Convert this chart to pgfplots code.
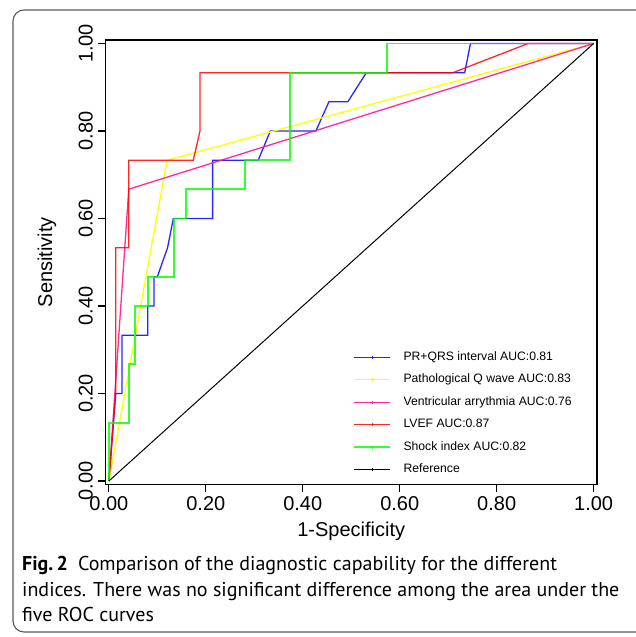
\documentclass[border=0pt]{standalone}
\usepackage{pgfplots}
\pgfplotsset{compat=1.18}
\usepackage{fontspec}
\setmainfont{Liberation Sans}
\newfontfamily\capfont{PT Sans}

\definecolor{cblue}{HTML}{0000FF}
\definecolor{cyellow}{HTML}{FFFF00}
\definecolor{cpink}{HTML}{FF1493}
\definecolor{cred}{HTML}{FF0000}
\definecolor{cgreen}{HTML}{00FF00}

\begin{document}
\begin{tikzpicture}
\useasboundingbox (0pt,0pt) rectangle (635pt,637pt);
\draw[black!65, line width=1.1pt, rounded corners=11pt] (13pt,5pt) rectangle (660pt,627pt);

\begin{axis}[
    at={(105.5pt,152.5pt)}, anchor=south west,
    scale only axis, width=491.5pt, height=444.5pt,
    xmin=-0.007, xmax=1.007, ymin=-0.008, ymax=1.008,
    axis line style={line width=1.2pt},
    tick align=outside, major tick length=7.5pt,
    tick style={black, line width=1.2pt},
    xtick pos=bottom, ytick pos=left,
    xtick={0,0.2,0.4,0.6,0.8,1}, ytick={0,0.2,0.4,0.6,0.8,1},
    xticklabels={0.00,0.20,0.40,0.60,0.80,1.00},
    yticklabels={0.00,0.20,0.40,0.60,0.80,1.00},
    xticklabel style={font=\fontsize{20}{20}\selectfont, inner sep=0pt, anchor=north, yshift=-4.5pt},
    yticklabel style={font=\fontsize{20}{20}\selectfont, inner sep=0pt, rotate=90, anchor=south, yshift=5pt},
    xlabel={1-Specificity}, ylabel={Sensitivity},
    every axis x label/.style={at={(axis description cs:0.5,0)}, anchor=north, inner sep=0pt, yshift=-37pt, font=\fontsize{20}{20}\selectfont},
    every axis y label/.style={at={(axis description cs:0,0.5)}, rotate=90, anchor=south, inner sep=0pt, yshift=49pt, font=\fontsize{20}{20}\selectfont},
    legend cell align=left,
    legend style={at={(axis cs:0.5037,0.297)}, anchor=north west, draw=none, fill=none,
        inner sep=0pt, font=\fontsize{12.2}{12.2}\selectfont, row sep=10.5pt,
        nodes={inner sep=0pt, text height=9pt, text depth=3pt}},
    legend image code/.code={
        \draw[#1] (0pt,0pt) -- (35.7pt,0pt);
        \draw[#1, line width=0.6pt] (17.85pt,-1.5pt) -- (17.85pt,1.5pt);
        \path (48.4pt,0pt);
    },
]
% PR+QRS interval
\addplot[cblue, line width=1.3pt, opacity=0.85] coordinates {
  (0,0) (0.014,0.2) (0.027,0.2) (0.027,0.333) (0.080,0.333) (0.080,0.4)
  (0.093,0.4) (0.093,0.467) (0.100,0.467) (0.121,0.533) (0.133,0.6)
  (0.214,0.6) (0.214,0.733) (0.308,0.733) (0.333,0.8) (0.427,0.8)
  (0.454,0.867) (0.493,0.867) (0.531,0.933) (0.734,0.933) (0.746,1) (1,1)
};
\addlegendentry{PR+QRS interval AUC:0.81}
% Pathological Q wave
\addplot[cyellow, line width=1.3pt] coordinates {
  (0,0) (0.120,0.733) (1,1)
};
\addlegendentry{Pathological Q wave AUC:0.83}
% Ventricular arrythmia
\addplot[cpink, line width=1.3pt, opacity=0.9] coordinates {
  (0,0) (0.041,0.667) (1,1)
};
\addlegendentry{Ventricular arrythmia AUC:0.76}
% LVEF
\addplot[cred, line width=1.3pt, opacity=0.85] coordinates {
  (0,0) (0.014,0.2) (0.014,0.533) (0.041,0.533) (0.041,0.733) (0.174,0.733)
  (0.188,0.8) (0.188,0.933) (0.709,0.933) (0.865,1) (1,1)
};
\addlegendentry{LVEF AUC:0.87}
% Shock index
\addplot[cgreen, line width=1.9pt, opacity=0.8] coordinates {
  (0,0) (0,0.133) (0.041,0.133) (0.041,0.267) (0.054,0.267) (0.054,0.4)
  (0.081,0.4) (0.081,0.467) (0.134,0.467) (0.134,0.6) (0.160,0.6)
  (0.160,0.667) (0.280,0.667) (0.280,0.733) (0.373,0.733) (0.373,0.933)
  (0.574,0.933) (0.574,1) (1,1)
};
\addlegendentry{Shock index AUC:0.82}
% Reference
\addplot[black, line width=1pt] coordinates {(0,0) (1,1)};
\addlegendentry{Reference}
\end{axis}

\begin{scope}[every node/.style={anchor=base west, inner sep=0pt, font=\capfont\fontsize{20}{20}\selectfont}]
\node at (22pt,66pt) {\textbf{Fig.\,2}\hspace{0.5em}Comparison of the diagnostic capability for the different};
\node at (22pt,40pt) {indices. There was no significant difference among the area under the};
\node at (22pt,15pt) {five ROC curves};
\end{scope}
\end{tikzpicture}
\end{document}
